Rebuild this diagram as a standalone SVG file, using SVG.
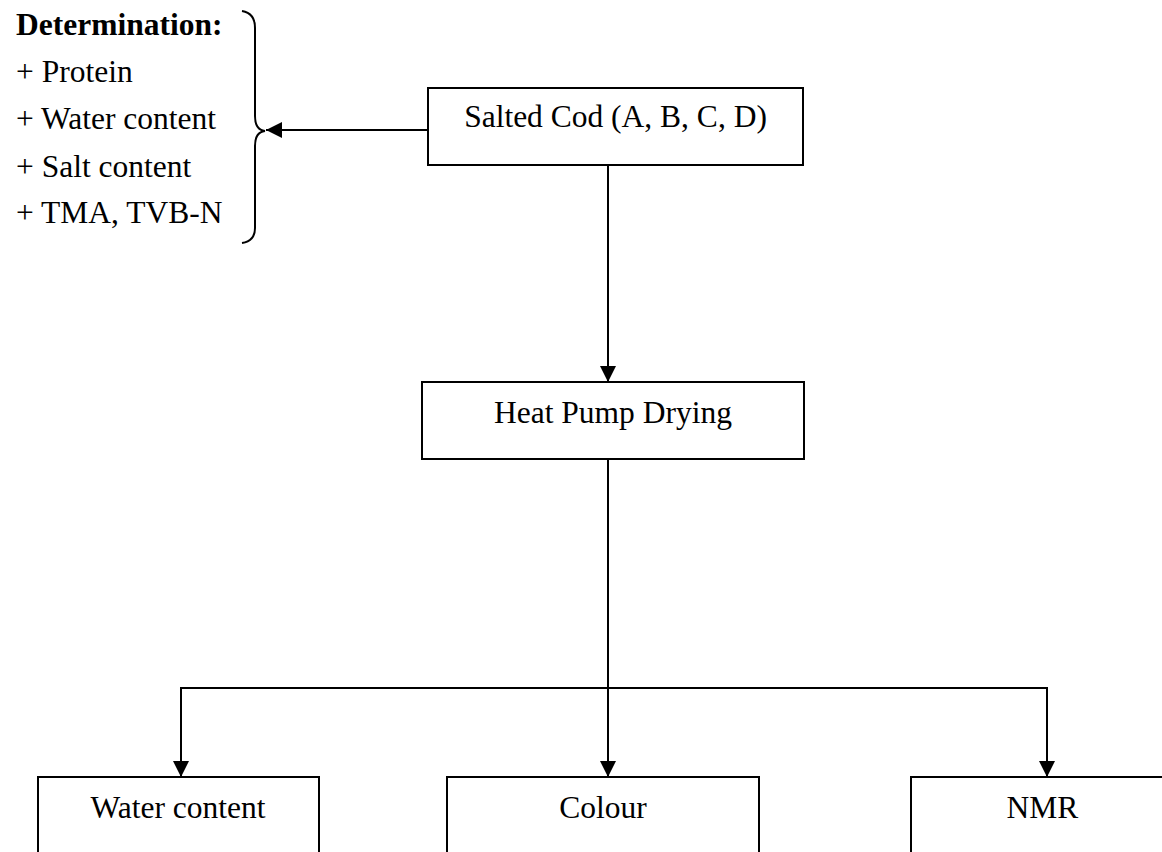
<svg xmlns="http://www.w3.org/2000/svg" width="1162" height="852" viewBox="0 0 1162 852">
<style>
  text { font-family: "Liberation Serif", "Times New Roman", serif; font-size: 31.5px; fill: #000; }
  .b { font-weight: bold; }
  .box { fill: #fff; stroke: #000; stroke-width: 2; }
  .ln { fill: none; stroke: #000; stroke-width: 2; }
</style>
<defs>
  <marker id="ah" markerUnits="userSpaceOnUse" markerWidth="16" markerHeight="16" viewBox="0 0 16 16" refX="16" refY="8" orient="auto">
    <path d="M0,0 L16,8 L0,16 Z" fill="#000"/>
  </marker>
</defs>
<rect width="1162" height="852" fill="#fff"/>

<g id="determination">
  <text x="16" y="35" class="b">Determination:</text>
  <text x="16" y="82">+ Protein</text>
  <text x="16" y="129">+ Water content</text>
  <text x="16" y="177">+ Salt content</text>
  <text x="16" y="223">+ TMA, TVB-N</text>
  <path class="ln" d="M242,11 Q255,13 255,28 L255,116 Q255,130 265,131 Q255,132 255,146 L255,228 Q255,241 242,243"/>
</g>

<g id="salted-cod">
  <rect class="box" x="428" y="88" width="375" height="77"/>
  <text x="615.5" y="127" text-anchor="middle">Salted Cod (A, B, C, D)</text>
</g>

<g id="heat-pump">
  <rect class="box" x="422" y="382" width="382" height="77"/>
  <text x="613" y="423" text-anchor="middle">Heat Pump Drying</text>
</g>

<g id="water-content">
  <rect class="box" x="38" y="777" width="281" height="100"/>
  <text x="178" y="818" text-anchor="middle">Water content</text>
</g>

<g id="colour">
  <rect class="box" x="447" y="777" width="312" height="100"/>
  <text x="603" y="818" text-anchor="middle">Colour</text>
</g>

<g id="nmr">
  <rect class="box" x="911" y="777" width="262" height="100"/>
  <text x="1042.5" y="818" text-anchor="middle">NMR</text>
</g>

<g id="connectors">
  <line class="ln" x1="428" y1="130" x2="266" y2="130" marker-end="url(#ah)"/>
  <line class="ln" x1="608" y1="165" x2="608" y2="382" marker-end="url(#ah)"/>
  <line class="ln" x1="608" y1="459" x2="608" y2="777" marker-end="url(#ah)"/>
  <line class="ln" x1="180" y1="688" x2="1048" y2="688"/>
  <line class="ln" x1="181" y1="688" x2="181" y2="777" marker-end="url(#ah)"/>
  <line class="ln" x1="1047" y1="688" x2="1047" y2="777" marker-end="url(#ah)"/>
</g>
</svg>
